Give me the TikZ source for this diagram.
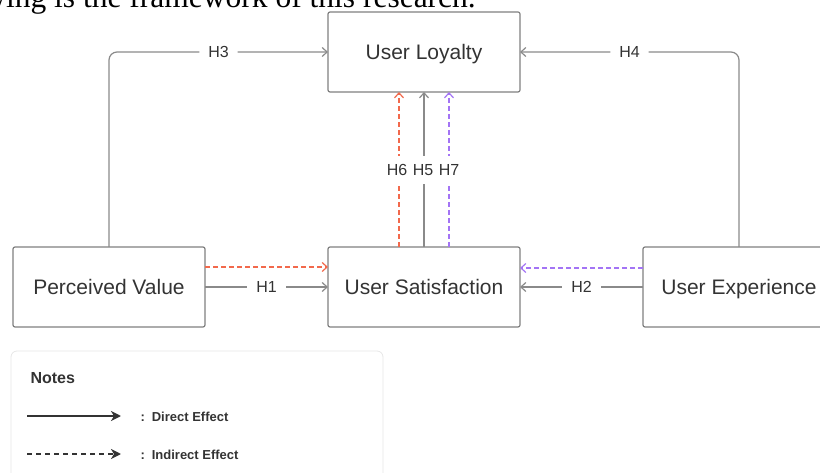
\documentclass[tikz,border=0pt]{standalone}
\usepackage{fontspec}
\setmainfont{Liberation Sans}
\newfontfamily\bodyfont{Liberation Serif}
\usetikzlibrary{arrows.meta,positioning}

\definecolor{linegray}{HTML}{8A8A8A}
\definecolor{boxgray}{HTML}{808080}
\definecolor{txtgray}{HTML}{333333}
\definecolor{indred}{HTML}{F2694C}
\definecolor{indpurple}{HTML}{A374F5}
\definecolor{notegray}{HTML}{E6E6E6}

\tikzset{
  construct/.style={draw=boxgray,line width=1.2pt,rounded corners=2pt,
    minimum width=192pt,minimum height=80pt,outer sep=0pt,
    text height=15.2pt,text depth=0pt,
    text=txtgray,font=\fontsize{21}{24}\selectfont},
  hyp/.style={fill=white,text=txtgray,inner xsep=9pt,inner ysep=2pt,
    text height=11.5pt,text depth=0pt,
    font=\fontsize{16}{18}\selectfont},
  effect/.style={draw=linegray,line width=1.2pt,
    -{Straight Barb[length=5pt,width=9pt,line width=1.2pt]}},
  indirect/.style={effect,dash pattern=on 5pt off 3pt},
  legendline/.style={draw=txtgray,line width=2pt,
    -{Stealth[length=10pt,width=10pt,inset=3pt]}},
  notetext/.style={anchor=west,text=txtgray,font=\bfseries\fontsize{13}{15}\selectfont},
}

\begin{document}
\begin{tikzpicture}[x=1pt,y=-1pt,node distance=123pt]
  \useasboundingbox (0,0) rectangle (820,473);

  % line of running text above the figure
  \node[anchor=base east,inner sep=0pt,font=\bodyfont\fontsize{31.5}{38}\selectfont]
    (caption) at (476,7.5) {following is the framework of this research.};

  % constructs
  \node[construct] (pv) at (109,287) {Perceived Value};
  \node[construct,right=of pv] (sat) {User Satisfaction};
  \node[construct,right=of sat] (ux) {User Experience};
  \node[construct,above=155pt of sat] (loyal) {User Loyalty};

  % direct paths
  \draw[effect] (pv.east) -- node[hyp] {H1} (sat.west);
  \draw[effect] (ux.west) -- node[hyp] {H2} (sat.east);
  \draw[effect,rounded corners=8pt] (pv.north) |- node[hyp,pos=.75] {H3} (loyal.west);
  \draw[effect,rounded corners=8pt] (ux.north) |- node[hyp,pos=.75] {H4} (loyal.east);

  % indirect paths through satisfaction
  \draw[indirect,draw=indred] ([yshift=20pt]pv.east) -- ([yshift=20pt]sat.west);
  \draw[indirect,draw=indpurple] ([yshift=19pt]ux.west) -- ([yshift=19pt]sat.east);

  % satisfaction -> loyalty
  \draw[indirect,draw=indred] ([xshift=-25pt]sat.north) -- ([xshift=-25pt]loyal.south);
  \draw[effect] (sat.north) -- (loyal.south);
  \draw[indirect,draw=indpurple] ([xshift=25pt]sat.north) -- ([xshift=25pt]loyal.south);
  \node[hyp,inner xsep=1pt,inner ysep=8pt] (h6) at (397,170) {H6};
  \node[hyp,inner xsep=1pt,inner ysep=8pt] (h5) at (423,170) {H5};
  \node[hyp,inner xsep=1pt,inner ysep=8pt] (h7) at (449,170) {H7};

  % notes
  \draw[notegray,line width=0.8pt,rounded corners=6pt] (11,351) rectangle (383,490);
  \node[anchor=west,text=txtgray,font=\bfseries\fontsize{16}{18}\selectfont] (notes) at (27,378) {Notes};
  \coordinate (d0) at (27,416);
  \coordinate (d1) at (121,416);
  \coordinate (i0) at (27,454);
  \coordinate (i1) at (121,454);
  \draw[legendline] (d0) -- (d1);
  \draw[legendline,dash pattern=on 5pt off 4pt] (i0) -- (i1);
  \node[notetext] (direct) at (137,417) {:\, Direct Effect};
  \node[notetext] (indirect) at (137,455) {:\, Indirect Effect};
\end{tikzpicture}
\end{document}
